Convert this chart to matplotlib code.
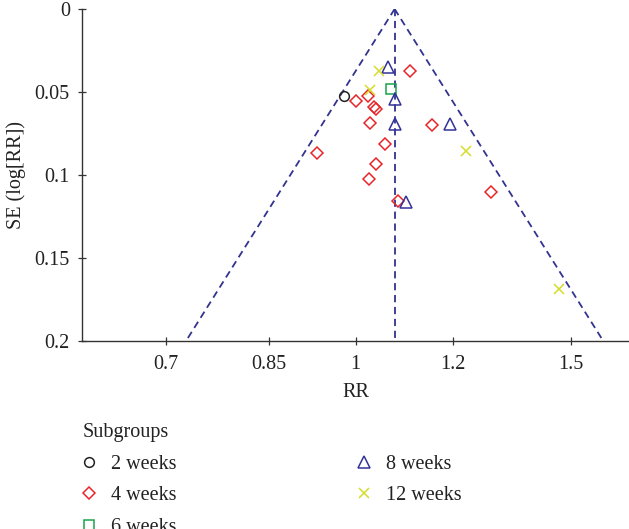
import numpy as np
import matplotlib
matplotlib.use("Agg")
import matplotlib.pyplot as plt
from matplotlib.ticker import FixedLocator, FixedFormatter, NullLocator

# ---------------- data ----------------
pooled_rr = 1.076
se_max = 0.2

rr_2w = [0.978]
se_2w = [0.0524]

rr_4w = [1.107, 1.000, 1.024, 1.035, 1.038, 1.028, 1.154, 1.057, 0.930, 1.038, 1.026, 1.290, 1.083]
se_4w = [0.0372, 0.0556, 0.0524, 0.0588, 0.0600, 0.0689, 0.0697, 0.0815, 0.0871, 0.0934, 0.1026, 0.1104, 0.1157]

rr_6w = [1.068]
se_6w = [0.0480]

rr_8w = [1.063, 1.076, 1.076, 1.195, 1.099]
se_8w = [0.0347, 0.0540, 0.0693, 0.0693, 0.1165]

rr_12w = [1.045, 1.027, 1.231, 1.465]
se_12w = [0.0372, 0.0488, 0.0854, 0.1690]

x_ticks = [0.7, 0.85, 1, 1.2, 1.5]
x_tick_labels = ["0.7", "0.85", "1", "1.2", "1.5"]
y_ticks = [0, 0.05, 0.1, 0.15, 0.2]
y_tick_labels = ["0", "0.05", "0.1", "0.15", "0.2"]

# ---------------- style ----------------
plt.rcParams["font.family"] = ["Liberation Serif", "DejaVu Serif"]
FS = 14.5
line_col = "#33338f"
axis_col = "#333333"
text_col = "#222222"

fig = plt.figure(figsize=(6.29, 5.29), dpi=100)
ax = fig.add_axes([82.3 / 629, 1 - 340.7 / 529, 1 - 82.3 / 629, (340.7 - 9) / 529])

# funnel
z = 1.96
lo = pooled_rr * np.exp(-z * se_max)
hi = pooled_rr * np.exp(z * se_max)
dash = (0, (4.0, 2.6))
ax.plot([pooled_rr, lo], [0, se_max], color=line_col, lw=1.3, ls=dash, zorder=1)
ax.plot([pooled_rr, hi], [0, se_max], color=line_col, lw=1.3, ls=dash, zorder=1)
ax.plot([pooled_rr, pooled_rr], [0, se_max], color=line_col, lw=1.3, ls=dash, zorder=1)

mk = dict(ls="none", mfc="none", mew=1.1, zorder=3)
h2 = ax.plot(rr_2w, se_2w, marker="o", ms=7, mec="#222222", label="2 weeks", **mk)[0]
h4 = ax.plot(rr_4w, se_4w, marker="D", ms=6.2, mec="#e8262a", label="4 weeks", **mk)[0]
h6 = ax.plot(rr_6w, se_6w, marker="s", ms=6.5, mec="#1aa34a", label="6 weeks", **mk)[0]
h8 = ax.plot(rr_8w, se_8w, marker="^", ms=9, mec="#333399", label="8 weeks", **mk)[0]
h12 = ax.plot(rr_12w, se_12w, marker="x", ms=7, mec="#d6dc2a", label="12 weeks", **mk)[0]

ax.set_xscale("log")
ax.set_xlim(0.598, 1.672)
ax.set_ylim(se_max, 0)
ax.xaxis.set_major_locator(FixedLocator(x_ticks))
ax.xaxis.set_major_formatter(FixedFormatter(x_tick_labels))
ax.xaxis.set_minor_locator(NullLocator())
ax.yaxis.set_major_locator(FixedLocator(y_ticks))
ax.yaxis.set_major_formatter(FixedFormatter(y_tick_labels))

for s in ["top", "right"]:
    ax.spines[s].set_visible(False)
for s in ["left", "bottom"]:
    ax.spines[s].set_color(axis_col)
    ax.spines[s].set_linewidth(1.0)
    ax.spines[s].set_clip_on(False)

ax.tick_params(axis="both", which="major", direction="inout", length=6, width=0.9,
               color=axis_col, labelsize=FS, labelcolor=text_col)
ax.tick_params(axis="x", pad=7)
ax.tick_params(axis="y", pad=6)

ax.set_xlabel("RR", fontsize=FS, color=text_col, labelpad=7)
ax.set_ylabel("SE (log[RR])", fontsize=FS, color=text_col, labelpad=6)

leg = ax.legend(handles=[h2, h4, h6, h8, h12], ncol=2, title="Subgroups",
                loc="upper left", bbox_to_anchor=(83 / 629, 1 - 423 / 529),
                bbox_transform=fig.transFigure, frameon=False, fontsize=FS,
                title_fontsize=FS, alignment="left", borderpad=0, borderaxespad=0,
                handlelength=0.6, handletextpad=0.8, columnspacing=9.0,
                labelspacing=0.62)
for t in leg.get_texts():
    t.set_color(text_col)
leg.get_title().set_color(text_col)

fig.savefig("out.png", dpi=100)
